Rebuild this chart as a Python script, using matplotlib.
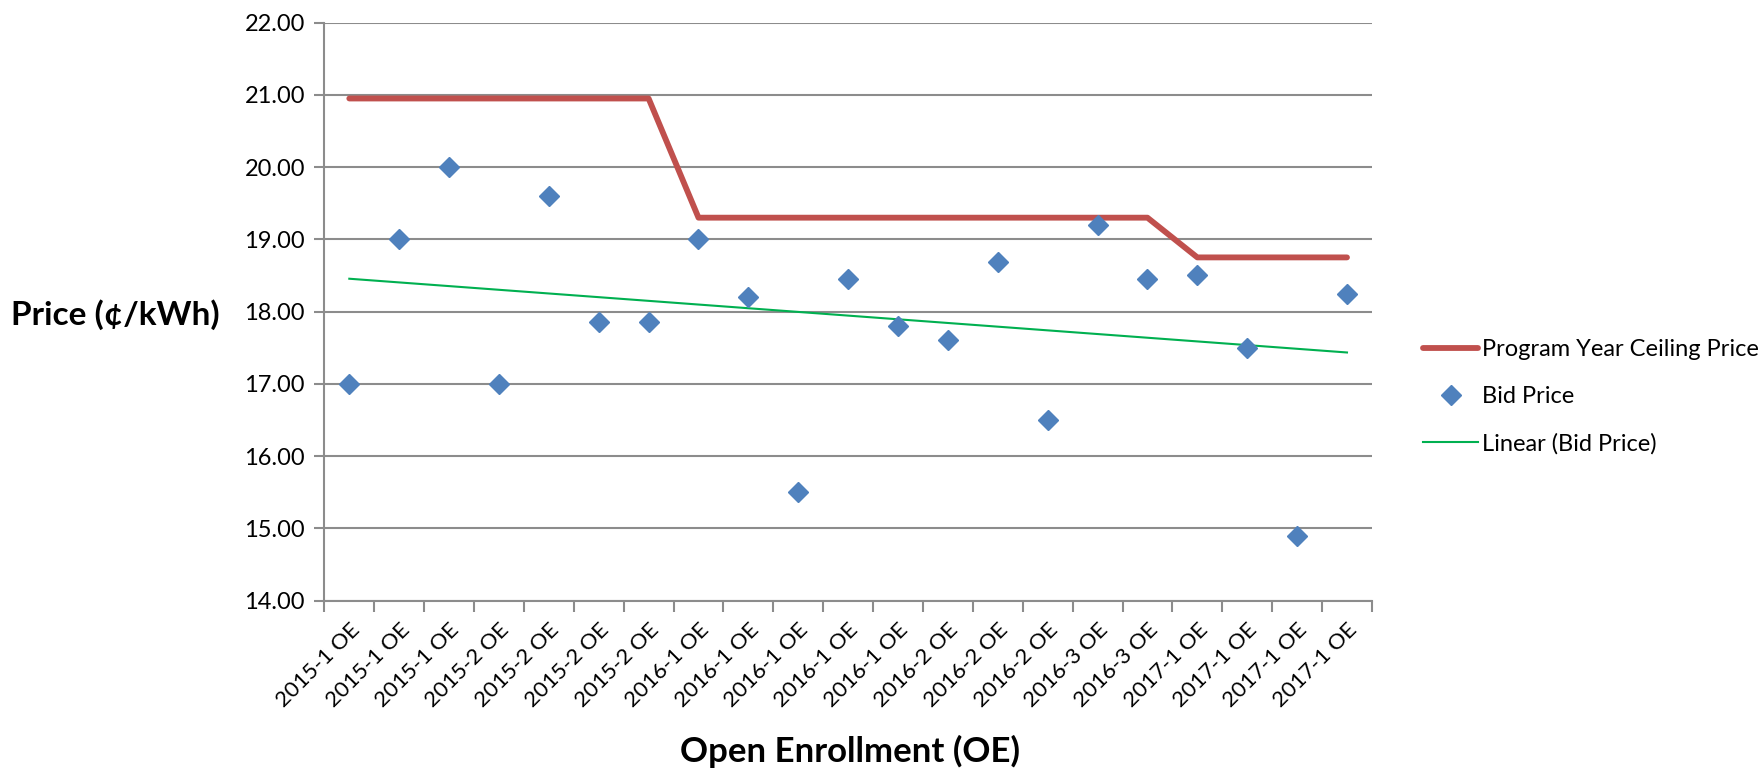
import numpy as np
import matplotlib.pyplot as plt

# categories and values
labels = ["2015-1 OE"] * 3 + ["2015-2 OE"] * 4 + ["2016-1 OE"] * 5 + \
         ["2016-2 OE"] * 3 + ["2016-3 OE"] * 2 + ["2017-1 OE"] * 4
bid = [17.0, 19.0, 20.0, 17.0, 19.6, 17.85, 17.85, 19.0, 18.2, 15.5, 18.45,
       17.8, 17.6, 18.68, 16.5, 19.2, 18.45, 18.5, 17.5, 14.9, 18.25]
ceiling = [20.95] * 7 + [19.3] * 10 + [18.75] * 4

plt.rcParams['font.family'] = ['Lato', 'DejaVu Sans']

fig = plt.figure(figsize=(17.6, 7.7), dpi=100)
ax = fig.add_axes([0.1843, 0.2201, 0.5952, 0.7505])

x = np.arange(len(bid))
# trend line from a least squares fit of the bid prices
m, b = np.polyfit(x, bid, 1)

ax.plot(x, ceiling, color='#C0504D', lw=4.2, solid_capstyle='round',
        label='Program Year Ceiling Price', zorder=3)
ax.plot(x, bid, ls='none', marker='D', ms=10, color='#4F81BD',
        label='Bid Price', zorder=4)
ax.plot(x, m * x + b, color='#00B050', lw=1.5, label='Linear (Bid Price)', zorder=3)

ax.set_xlim(-0.5, len(bid) - 0.5)
ax.set_ylim(14, 22)
yt = np.arange(14, 22.01, 1)
ax.set_yticks(yt)
ax.set_yticklabels([f"{v:.2f}" for v in yt], fontsize=17)
ax.grid(axis='y', color='#8c8c8c', lw=1.5)
ax.set_axisbelow(True)

ax.set_xticks(np.arange(-0.5, len(bid), 1))
ax.set_xticklabels([])
ax.set_xticks(x, minor=True)
ax.set_xticklabels(labels, minor=True, rotation=45, ha='right', va='top',
                   rotation_mode='anchor', fontsize=16)
ax.tick_params(axis='x', which='minor', length=0, pad=14)
ax.tick_params(axis='x', which='major', length=8, width=1.5, color='#8c8c8c')
ax.tick_params(axis='y', length=7, width=1.5, color='#8c8c8c', pad=7)

for s in ['top', 'right']:
    ax.spines[s].set_visible(False)
for s in ['left', 'bottom']:
    ax.spines[s].set_color('#8c8c8c')
    ax.spines[s].set_linewidth(1.5)

fig.text(0.006, 0.591, "Price (¢/kWh)", fontsize=24, fontweight='bold', va='center')
fig.text(0.483, 0.024, "Open Enrollment (OE)", fontsize=25, fontweight='bold',
         ha='center', va='center')

ax.legend(loc='center left', bbox_to_anchor=(0.7967, 0.4844),
          bbox_transform=fig.transFigure, frameon=False, fontsize=17,
          handlelength=2.3, handletextpad=0.2, labelspacing=1.1)

fig.savefig("out.png", dpi=100)
